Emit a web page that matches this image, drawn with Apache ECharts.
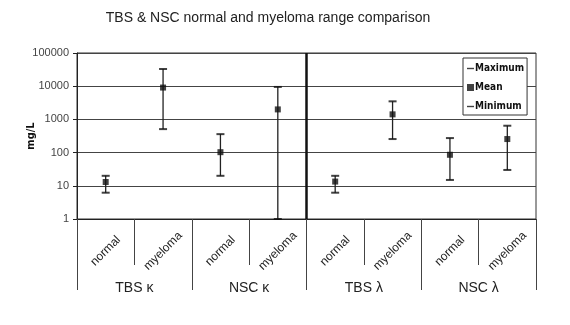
<!DOCTYPE html>
<html><head><meta charset="utf-8">
<script src="https://cdn.jsdelivr.net/npm/echarts@6/dist/echarts.min.js"></script>
<style>html,body{margin:0;padding:0;background:#fff}#c{width:570px;height:325px}</style>
</head><body><div id="c"></div>
<script>
const categories = ['normal','myeloma','normal','myeloma','normal','myeloma','normal','myeloma'];
const groups = ['TBS κ','NSC κ','TBS λ','NSC λ'];
const maximum = [20, 33000, 360, 9500, 20, 3500, 274, 645];
const mean    = [13, 9100, 103, 2000, 13.4, 1420, 86, 256];
const minimum = [6.2, 510, 20, 1, 6.2, 256, 15, 30];
const dividerAt = [4];

const chart = echarts.init(document.getElementById('c'), null, {renderer:'canvas'});
const dash = 'path://M0,0H10V2H0Z';
const sq = 'path://M0,0H10V10H0Z';
const condensed = "'DejaVu Sans Condensed', 'DejaVu Sans', sans-serif";
chart.setOption({
  backgroundColor:'#fff',
  animation:false,
  title:{text:'TBS & NSC normal and myeloma range comparison', left:263, textAlign:'center', top:6,
    textStyle:{fontFamily:'Liberation Sans', fontSize:14, fontWeight:'normal', color:'#222'}},
  legend:{
    orient:'vertical', left:463, top:58, padding:[5,3,3,4], itemGap:8,
    borderColor:'#333', borderWidth:1, backgroundColor:'#fff',
    itemWidth:7, itemHeight:7,
    textStyle:{fontFamily:condensed, fontWeight:'bold', fontSize:10, color:'#111', padding:[0,0,0,-4], lineHeight:11},
    data:[{name:'Maximum', icon:dash},{name:'Mean', icon:sq},{name:'Minimum', icon:dash}]
  },
  grid:{left:77, right:34, top:53, bottom:106, show:true, borderColor:'#333', borderWidth:1},
  xAxis:[{
    type:'category', data:categories, boundaryGap:true,
    axisLine:{lineStyle:{color:'#222'}},
    axisTick:{show:true, length:46, lineStyle:{color:'#444'}},
    axisLabel:{rotate:45, align:'center', verticalAlign:'middle', margin:32,
      fontFamily:'Liberation Sans', fontSize:12, color:'#222', interval:0}
  },{
    type:'category', data:groups, position:'bottom', boundaryGap:true,
    axisLine:{show:false},
    axisTick:{show:true, length:71, lineStyle:{color:'#444'}},
    axisLabel:{margin:62, fontFamily:'Liberation Sans', fontSize:14, color:'#222', interval:0}
  },{
    type:'value', min:0, max:categories.length, show:false
  }],
  yAxis:{
    type:'log', logBase:10, min:1, max:100000,
    name:'mg/L', nameLocation:'middle', nameGap:40, nameRotate:90, nameMoveOverlap:false,
    nameTextStyle:{fontFamily:condensed, fontWeight:'bold', fontSize:11, color:'#111'},
    axisLine:{show:true, lineStyle:{color:'#222'}},
    axisTick:{show:true, length:4, lineStyle:{color:'#222'}},
    minorTick:{show:false},
    axisLabel:{fontFamily:'Liberation Sans', fontSize:11, color:'#444', margin:8,
      formatter:function(v){return String(Math.round(v));}},
    splitLine:{show:true, lineStyle:{color:'#444', width:1}}
  },
  series:[
    {type:'custom', name:'range', xAxisIndex:0, silent:true, z:2,
      data: categories.map((c,i)=>[i, minimum[i], maximum[i]]),
      renderItem:function(params, api){
        const lo = api.coord([api.value(0), api.value(1)]);
        const hi = api.coord([api.value(0), api.value(2)]);
        return {type:'line', shape:{x1:lo[0], y1:lo[1], x2:hi[0], y2:hi[1]}, style:{stroke:'#222', lineWidth:1.3}};
      }},
    {type:'line', name:'divider', xAxisIndex:2, data:[], silent:true,
      markLine:{symbol:'none', silent:true, label:{show:false},
        lineStyle:{color:'#111', width:2.5, type:'solid'},
        data: dividerAt.map(v=>({xAxis:v}))}},
    {type:'scatter', name:'Maximum', data:maximum, symbol:'rect', symbolSize:[8,2], itemStyle:{color:'#111'}, z:3},
    {type:'scatter', name:'Mean', data:mean, symbol:'rect', symbolSize:6, itemStyle:{color:'#111'}, z:4},
    {type:'scatter', name:'Minimum', data:minimum, symbol:'rect', symbolSize:[8,2], itemStyle:{color:'#111'}, z:3}
  ]
});
</script></body></html>
